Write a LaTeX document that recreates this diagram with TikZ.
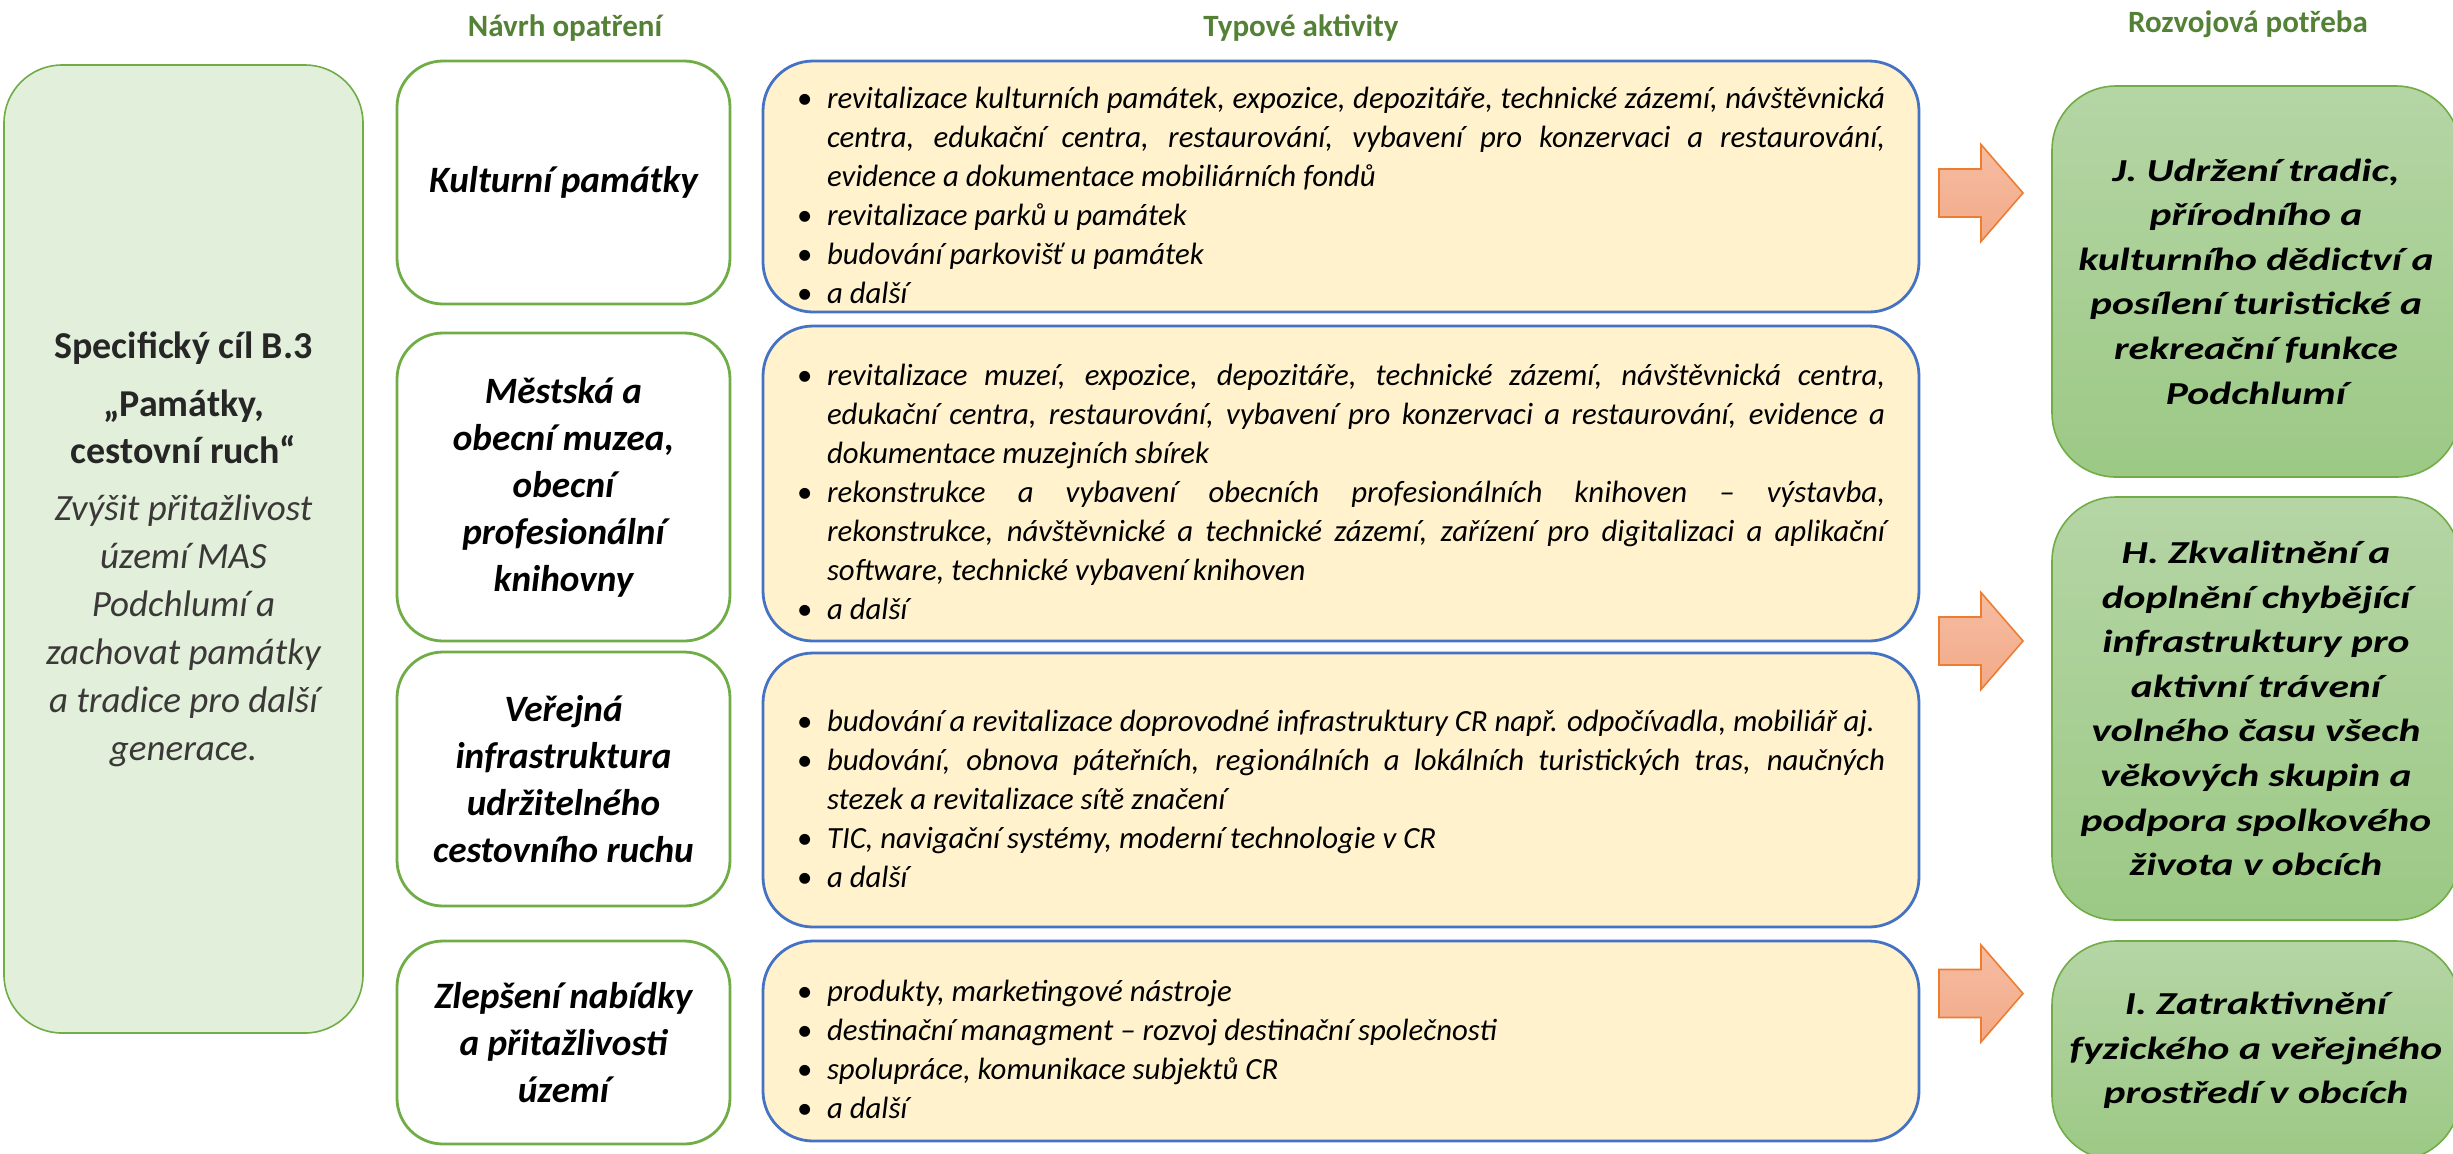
\documentclass[tikz,border=0pt]{standalone}
\usepackage{fontspec}
\setmainfont{Carlito}
\newfontfamily\sirokepismo[FakeStretch=1.3]{Carlito}

\definecolor{nadpis}{HTML}{538135}
\definecolor{zelenaokraj}{HTML}{70AD47}
\definecolor{zelenasvetla}{HTML}{E2EFDA}
\definecolor{modraokraj}{HTML}{4472C4}
\definecolor{zlutavypln}{HTML}{FFF2CC}
\definecolor{oranzokraj}{HTML}{ED7D31}
\definecolor{oranzhore}{HTML}{F6BCA2}
\definecolor{oranzdole}{HTML}{F2AA88}
\definecolor{potrebahore}{HTML}{B5D5A5}
\definecolor{potrebadole}{HTML}{9CC985}
\definecolor{sedytext}{HTML}{262626}
\definecolor{sedykurz}{HTML}{3B3838}

\hyphenpenalty=10000
\exhyphenpenalty=10000
\newcommand{\bod}{\par\hangindent=15pt\hangafter=1\noindent\makebox[15pt][l]{\upshape\textbullet}}

\tikzset{
	nadpis/.style={font=\fontsize{15.5}{18}\selectfont\bfseries, text=nadpis},
	cilbox/.style={draw=zelenaokraj, line width=0.8pt, fill=zelenasvetla, rounded corners=29pt, minimum width=179.5pt, minimum height=484pt, align=center, inner sep=0pt, text=sedytext, font=\fontsize{19}{23.5}\selectfont},
	opatreni/.style={draw=zelenaokraj, line width=1.4pt, fill=white, rounded corners=23pt, minimum width=166.5pt, align=center, font=\fontsize{18.6}{23.5}\selectfont\bfseries\itshape},
	aktivity/.style={draw=modraokraj, line width=1.4pt, fill=zlutavypln, rounded corners=25pt, minimum width=578pt, inner xsep=17pt, inner ysep=0pt, text width=544pt, align=justify, font=\fontsize{15.4}{19.5}\selectfont\itshape},
	potreba/.style={draw=zelenaokraj, line width=0.8pt, top color=potrebahore, bottom color=potrebadole, rounded corners=32pt, minimum width=204pt, align=center, font=\sirokepismo\fontsize{16}{22.3}\selectfont\bfseries\itshape},
	sipka/.style={draw=oranzokraj, line width=0.8pt, top color=oranzhore, bottom color=oranzdole}
}

\begin{document}
\begin{tikzpicture}[x=0.5pt, y=-0.5pt]
	%%%%% START %%%%%
	\useasboundingbox (0, 0) rectangle (2453, 1153);

	\node[nadpis] (hlavaopatreni) at (565, 28) {Návrh opatření};
	\node[nadpis] (hlavaaktivity) at (1301, 28) {Typové aktivity};
	\node[nadpis] (hlavapotreba) at (2248, 24) {Rozvojová potřeba};

	\node[cilbox] (cil) at (183.5, 549) {%
		\textbf{Specifický cíl B.3}\\[5.5pt]
		\textbf{„Památky,}\\
		\textbf{cestovní ruch“}\\[5pt]
		{\fontsize{18.5}{23.5}\selectfont\itshape\color{sedykurz} Zvýšit přitažlivost}\\[0.5pt]
		{\fontsize{18.5}{23.5}\selectfont\itshape\color{sedykurz} území MAS}\\[0.5pt]
		{\fontsize{18.5}{23.5}\selectfont\itshape\color{sedykurz} Podchlumí a}\\[0.5pt]
		{\fontsize{18.5}{23.5}\selectfont\itshape\color{sedykurz} zachovat památky}\\[0.5pt]
		{\fontsize{18.5}{23.5}\selectfont\itshape\color{sedykurz} a tradice pro další}\\[0.5pt]
		{\fontsize{18.5}{23.5}\selectfont\itshape\color{sedykurz} generace.}};

	%%%%% opatreni %%%%%
	\node[opatreni, minimum height=121.5pt] (op1) at (563.5, 182.5) {Kulturní památky};
	\node[opatreni, minimum height=154pt] (op2) at (563.5, 487) {Městská a\\ obecní muzea,\\ obecní\\ profesionální\\ knihovny};
	\node[opatreni, minimum height=127pt] (op3) at (563.5, 779) {Veřejná\\ infrastruktura\\ udržitelného\\ cestovního ruchu};
	\node[opatreni, minimum height=101.5pt] (op4) at (563.5, 1042.5) {Zlepšení nabídky\\ a přitažlivosti\\ území};

	%%%%% aktivity %%%%%
	\node[aktivity, minimum height=125.5pt] (ak1) at (1341, 186.5) {%
		\bod revitalizace kulturních památek, expozice, depozitáře, technické zázemí, návštěvnická \linebreak centra, edukační centra, restaurování, vybavení pro konzervaci a restaurování, \linebreak evidence a dokumentace mobiliárních fondů
		\bod revitalizace parků u památek
		\bod budování parkovišť u památek
		\bod a další};
	\node[aktivity, minimum height=157.5pt] (ak2) at (1341, 483.5) {%
		\bod revitalizace muzeí, expozice, depozitáře, technické zázemí, návštěvnická centra, \linebreak edukační centra, restaurování, vybavení pro konzervaci a restaurování, evidence a \linebreak dokumentace muzejních sbírek
		\bod rekonstrukce a vybavení obecních profesionálních knihoven – výstavba, \linebreak rekonstrukce, návštěvnické a technické zázemí, zařízení pro digitalizaci a aplikační \linebreak software, technické vybavení knihoven
		\bod a další};
	\node[aktivity, minimum height=137pt] (ak3) at (1341, 790) {%
		\bod budování a revitalizace doprovodné infrastruktury CR např. odpočívadla, mobiliář aj.
		\bod budování, obnova páteřních, regionálních a lokálních turistických tras, naučných \linebreak stezek a revitalizace sítě značení
		\bod TIC, navigační systémy, moderní technologie v CR
		\bod a další};
	\node[aktivity, minimum height=100pt] (ak4) at (1341, 1041) {%
		\bod produkty, marketingové nástroje
		\bod destinační managment – rozvoj destinační společnosti
		\bod spolupráce, komunikace subjektů CR
		\bod a další};

	%%%%% sipky %%%%%
	\foreach \y in {193, 641, 993.5}
		\draw[sipka] (1939, {\y-24}) -- (1981, {\y-24}) -- (1981, {\y-48.5}) -- (2023, \y) -- (1981, {\y+48.5}) -- (1981, {\y+24}) -- (1939, {\y+24}) -- cycle;

	%%%%% potreby %%%%%
	\node[potreba, minimum height=195.5pt] (potJ) at (2256, 281.5) {J. Udržení tradic,\\ přírodního a\\ kulturního dědictví a\\ posílení turistické a\\ rekreační funkce\\ Podchlumí};
	\node[potreba, minimum height=211.5pt] (potH) at (2256, 708.5) {H. Zkvalitnění a\\ doplnění chybějící\\ infrastruktury pro\\ aktivní trávení\\ volného času všech\\ věkových skupin a\\ podpora spolkového\\ života v obcích};
	\node[potreba, minimum height=109.5pt] (potI) at (2256, 1050.5) {I. Zatraktivnění\\ fyzického a veřejného\\ prostředí v obcích};

	%%%%% END %%%%%
\end{tikzpicture}
\end{document}
